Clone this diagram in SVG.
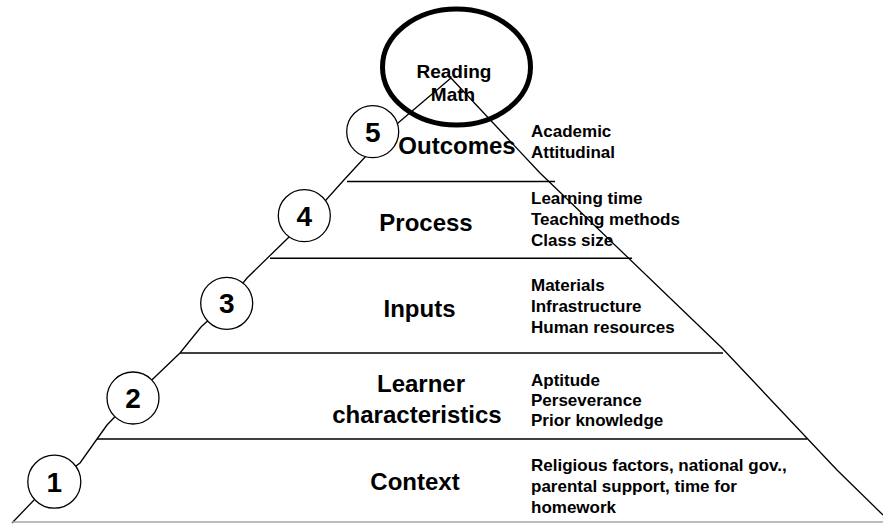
<svg xmlns="http://www.w3.org/2000/svg" width="883" height="525" viewBox="0 0 883 525">
  <style>
    .edge { fill: none; stroke: #000; stroke-width: 1.3; }
    .sep { stroke: #000; stroke-width: 1.6; }
    .base { stroke: #a6a6a6; stroke-width: 1.6; }
    .badge { fill: #fff; stroke: #000; stroke-width: 1.3; }
    .num { font-family: "Liberation Sans", Arial, sans-serif; font-weight: bold; font-size: 28px; text-anchor: middle; }
    .level { font-family: "Liberation Sans", Arial, sans-serif; font-weight: bold; font-size: 24px; text-anchor: middle; }
    .item { font-family: "Liberation Sans", Arial, sans-serif; font-weight: bold; font-size: 17px; }
    .goal { font-family: "Liberation Sans", Arial, sans-serif; font-weight: bold; font-size: 19px; text-anchor: middle; }
  </style>

  <rect width="883" height="525" fill="#fff"/>

  <!-- pyramid outline and level dividers -->
  <g id="connectors">
    <polyline class="edge" points="451,78 398,123 366,156 343,181 326,200 304,216 288,238 247,278 227,303 201,327 180,353 133,398 107,425 97,439 80,463 54,482 35,499 12,523"/>
    <polyline class="edge" points="451,78 540,173 722,348 837,470 883,515"/>
    <line class="sep" x1="347" y1="181.5" x2="555" y2="181.5"/>
    <line class="sep" x1="270" y1="258.3" x2="632" y2="258.3"/>
    <line class="sep" x1="180" y1="353" x2="723" y2="353"/>
    <line class="sep" x1="97" y1="439" x2="807" y2="439"/>
    <line class="base" x1="12" y1="522" x2="883" y2="522"/>
  </g>

  <!-- top: achievement goal -->
  <g id="goal">
    <ellipse cx="456.5" cy="67" rx="74" ry="58" fill="none" stroke="#000" stroke-width="5"/>
    <text class="goal" x="454" y="78">Reading</text>
    <text class="goal" x="453" y="101">Math</text>
  </g>

  <g id="level-5">
    <text class="level" x="457" y="154">Outcomes</text>
    <circle class="badge" cx="372.7" cy="131.7" r="26"/>
    <text class="num" x="372.7" y="141.7">5</text>
    <text class="item" x="531" y="137">Academic</text>
    <text class="item" x="531" y="158">Attitudinal</text>
  </g>

  <g id="level-4">
    <circle class="badge" cx="304.3" cy="215.7" r="26"/>
    <text class="num" x="304.3" y="225.7">4</text>
    <text class="level" x="426" y="231">Process</text>
    <text class="item" x="531" y="204">Learning time</text>
    <text class="item" x="531" y="225">Teaching methods</text>
    <text class="item" x="531" y="246">Class size</text>
  </g>

  <g id="level-3">
    <circle class="badge" cx="226.7" cy="303.3" r="26"/>
    <text class="num" x="226.7" y="313.3">3</text>
    <text class="level" x="419.5" y="317">Inputs</text>
    <text class="item" x="531" y="291">Materials</text>
    <text class="item" x="531" y="312">Infrastructure</text>
    <text class="item" x="531" y="333">Human resources</text>
  </g>

  <g id="level-2">
    <circle class="badge" cx="133" cy="398" r="26"/>
    <text class="num" x="133" y="408">2</text>
    <text class="level" x="421" y="392">Learner</text>
    <text class="level" x="417" y="423">characteristics</text>
    <text class="item" x="531" y="386">Aptitude</text>
    <text class="item" x="531" y="406">Perseverance</text>
    <text class="item" x="531" y="426">Prior knowledge</text>
  </g>

  <g id="level-1">
    <circle class="badge" cx="54.3" cy="481.7" r="26.5"/>
    <text class="num" x="54.3" y="491.7">1</text>
    <text class="level" x="415" y="490">Context</text>
    <text class="item" x="531" y="471">Religious factors, national gov.,</text>
    <text class="item" x="531" y="492">parental support, time for</text>
    <text class="item" x="531" y="513">homework</text>
  </g>
</svg>
